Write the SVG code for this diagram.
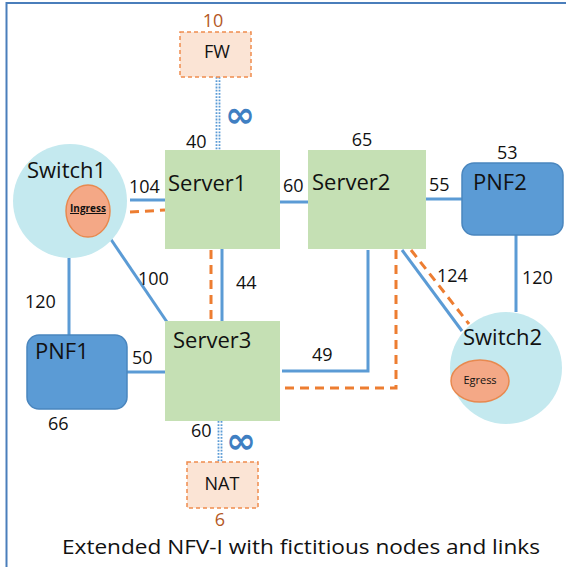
<svg xmlns="http://www.w3.org/2000/svg" width="566" height="567" viewBox="0 0 566 567">
<style>
text{font-family:"Open Sans","Noto Sans","Liberation Sans",sans-serif;fill:#111}
.n{font-size:22px}
.l{font-size:18px}
.o{fill:#B4581F;font-size:18px}
.inf{fill:#3F7FC2;font-size:36px;font-weight:bold;font-family:"DejaVu Sans",sans-serif}
.srv{fill:#C5E0B4}
.pnf{fill:#5B9BD5;stroke:#4A86BE;stroke-width:1.5}
.sw{fill:#C4E9EF}
.port{fill:#F4A886;stroke:#E8894F;stroke-width:1.5}
.vnf{fill:#FBE4D5;stroke:#F08C4E;stroke-width:1.5;stroke-dasharray:4 3}
.b{stroke:#5B9BD5;stroke-width:3;fill:none}
.d{stroke:#ED7D31;stroke-width:3;fill:none;stroke-dasharray:9 6}
.dot{stroke:#5B9BD5;stroke-width:1.8;fill:none;stroke-dasharray:1.8 1.4}
</style>
<g id="frame">
<line x1="6.5" y1="2" x2="6.5" y2="567" stroke="#4A7EBB" stroke-width="2"/>
<line x1="6" y1="3" x2="566" y2="3" stroke="#4A7EBB" stroke-width="2"/>
</g>
<g id="connectors">
<line class="b" x1="130" y1="200" x2="165" y2="200"/>
<line class="d" x1="130" y1="212" x2="165" y2="210"/>
<line class="b" x1="280" y1="202" x2="308" y2="202"/>
<line class="b" x1="426" y1="199" x2="462" y2="199"/>
<line class="b" x1="516" y1="235" x2="516" y2="312"/>
<line class="b" x1="402" y1="250" x2="462" y2="331"/>
<line class="d" x1="411" y1="250" x2="469" y2="324"/>
<polyline class="b" points="368,250 368,371 282,371"/>
<polyline class="d" points="396,250 396,388 282,388"/>
<line class="b" x1="222" y1="249" x2="222" y2="321"/>
<line class="d" x1="211" y1="250" x2="211" y2="321"/>
<line class="b" x1="110" y1="238" x2="167" y2="322"/>
<line class="b" x1="69" y1="258" x2="69" y2="335"/>
<line class="b" x1="127" y1="372" x2="165" y2="372"/>
<line class="dot" x1="216.5" y1="77" x2="216.5" y2="150"/>
<line class="dot" x1="219.5" y1="77" x2="219.5" y2="150"/>
<line class="dot" x1="218.5" y1="421" x2="218.5" y2="462"/>
<line class="dot" x1="221.5" y1="421" x2="221.5" y2="462"/>
</g>
<g id="FW">
<rect class="vnf" x="180" y="32" width="71" height="45"/>
<text class="l" x="217" y="58" text-anchor="middle">FW</text>
<text class="o" x="213" y="27" text-anchor="middle">10</text>
</g>
<g id="NAT">
<rect class="vnf" x="187" y="462" width="71" height="46"/>
<text class="l" x="222" y="490" text-anchor="middle">NAT</text>
<text class="o" x="220" y="526" text-anchor="middle">6</text>
</g>
<g id="Switch1">
<circle class="sw" cx="70" cy="201" r="57"/>
<text class="n" x="27" y="178">Switch1</text>
<ellipse class="port" cx="88" cy="211" rx="22" ry="26"/>
<text x="88" y="212" text-anchor="middle" font-size="10" font-weight="bold" text-decoration="underline">Ingress</text>
</g>
<g id="Switch2">
<circle class="sw" cx="506" cy="368" r="56"/>
<text class="n" x="463" y="345">Switch2</text>
<ellipse class="port" cx="480" cy="381" rx="29" ry="21"/>
<text x="480" y="384" text-anchor="middle" font-size="11">Egress</text>
</g>
<g id="Server1">
<rect class="srv" x="165" y="150" width="115" height="99"/>
<text class="n" x="168" y="191">Server1</text>
</g>
<g id="Server2">
<rect class="srv" x="308" y="150" width="118" height="99"/>
<text class="n" x="312" y="190">Server2</text>
</g>
<g id="Server3">
<rect class="srv" x="165" y="321" width="115" height="100"/>
<text class="n" x="173" y="348">Server3</text>
</g>
<g id="PNF1">
<rect class="pnf" x="27" y="335" width="100" height="74" rx="12"/>
<text class="n" x="35" y="359">PNF1</text>
</g>
<g id="PNF2">
<rect class="pnf" x="462" y="163" width="101" height="72" rx="12"/>
<text class="n" x="473" y="190">PNF2</text>
</g>
<g id="labels">
<text class="l" x="186" y="148">40</text>
<text class="inf" x="240" y="127" text-anchor="middle">∞</text>
<text class="l" x="129" y="193">104</text>
<text class="l" x="283" y="192">60</text>
<text class="l" x="362" y="146" text-anchor="middle">65</text>
<text class="l" x="429" y="191">55</text>
<text class="l" x="497" y="159">53</text>
<text class="l" x="437" y="282">124</text>
<text class="l" x="522" y="284">120</text>
<text class="l" x="312" y="361">49</text>
<text class="l" x="236" y="289">44</text>
<text class="l" x="138" y="285">100</text>
<text class="l" x="25" y="308">120</text>
<text class="l" x="132" y="364">50</text>
<text class="l" x="48" y="430">66</text>
<text class="l" x="191" y="437">60</text>
<text class="inf" x="241" y="453" text-anchor="middle">∞</text>
</g>
<text x="62" y="554" font-size="20" textLength="478" lengthAdjust="spacingAndGlyphs">Extended NFV-I with fictitious nodes and links</text>
</svg>
